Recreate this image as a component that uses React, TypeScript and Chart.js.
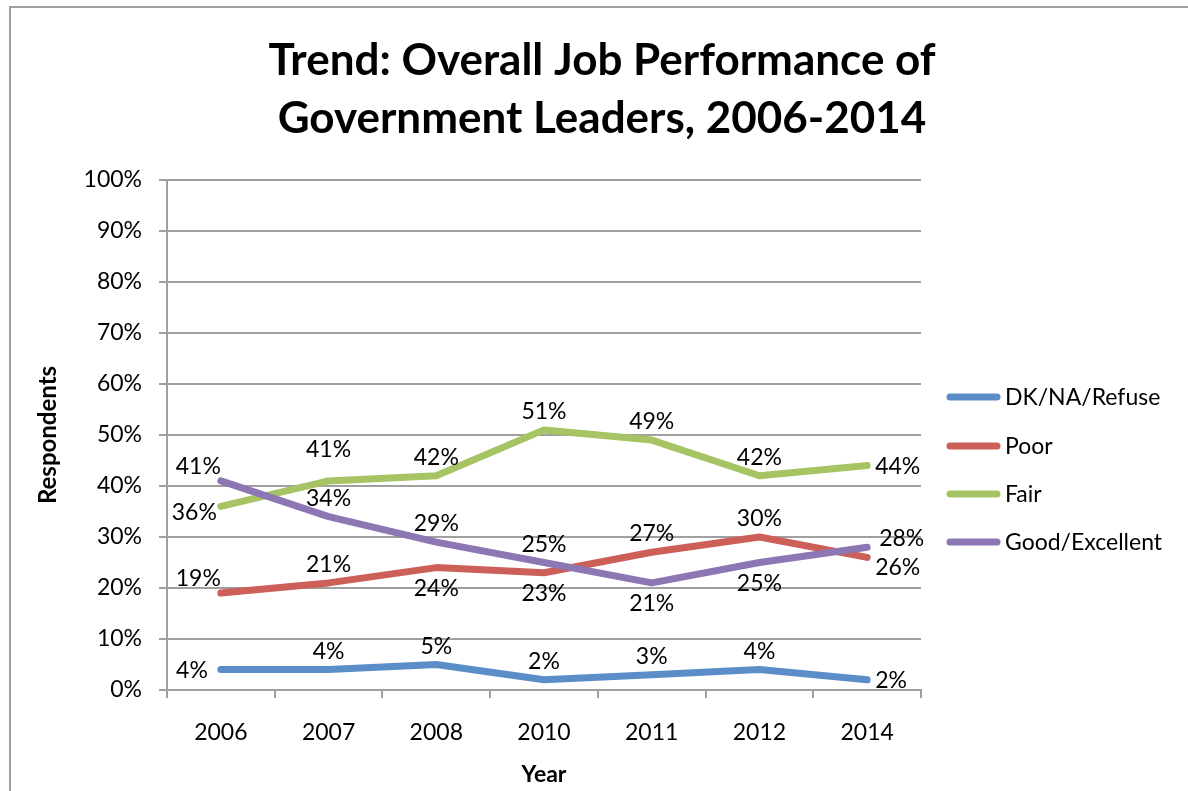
import React, { useEffect, useRef } from "react";
import { Chart, registerables } from "chart.js";

Chart.register(...registerables);

const categories = ["2006", "2007", "2008", "2010", "2011", "2012", "2014"];
const dkValues = [4, 4, 5, 2, 3, 4, 2];
const poorValues = [19, 21, 24, 23, 27, 30, 26];
const fairValues = [36, 41, 42, 51, 49, 42, 44];
const goodValues = [41, 34, 29, 25, 21, 25, 28];
const seriesNames = ["DK/NA/Refuse", "Poor", "Fair", "Good/Excellent"];
const titleLines = ["Trend: Overall Job Performance of", "Government Leaders, 2006-2014"];
const xTitle = "Year";
const yTitle = "Respondents";

// label placement keywords (style only)
const dkPos = ["left", "above", "above", "above", "above", "above", "right"];
const poorPos = ["aboveLeft", "above", "below", "below", "above", "above", "belowRight"];
const fairPos = ["belowLeft", "high", "above", "above", "above", "above", "right"];
const goodPos = ["aboveLeft", "above", "above", "above", "below", "below", "aboveRight"];

const FONT = "Lato, 'Open Sans', sans-serif";
const COLORS = ["#5b8ec9", "#cd5f59", "#a6c464", "#8c76b3"];
const GRID = "#a0a0a0";

const customPlugin = {
  id: "customDecor",
  beforeDraw(chart: any) {
    const ctx = chart.ctx;
    ctx.save();
    ctx.fillStyle = "#ffffff";
    ctx.fillRect(0, 0, chart.width, chart.height);
    ctx.strokeStyle = GRID;
    ctx.lineWidth = 2;
    ctx.beginPath();
    ctx.moveTo(10, chart.height + 10);
    ctx.lineTo(10, 7);
    ctx.lineTo(chart.width + 10, 7);
    ctx.stroke();
    ctx.restore();
  },
  afterDatasetsDraw(chart: any) {
    const ctx = chart.ctx;
    const positions = [dkPos, poorPos, fairPos, goodPos];
    ctx.save();
    ctx.font = `23px ${FONT}`;
    ctx.fillStyle = "#000";
    ctx.textBaseline = "alphabetic";
    chart.data.datasets.forEach((ds: any, di: number) => {
      const meta = chart.getDatasetMeta(di);
      meta.data.forEach((pt: any, i: number) => {
        const txt = ds.data[i] + "%";
        const pos = positions[di][i];
        let x = pt.x;
        let y = pt.y;
        let align: CanvasTextAlign = "center";
        switch (pos) {
          case "above": y = pt.y - 11; break;
          case "high": y = pt.y - 24; break;
          case "below": y = pt.y + 28; break;
          case "left": align = "right"; x = pt.x - 13; y = pt.y + 8; break;
          case "right": align = "left"; x = pt.x + 8; y = pt.y + 8; break;
          case "aboveLeft": align = "right"; x = pt.x; y = pt.y - 7; break;
          case "belowLeft": align = "right"; x = pt.x - 4; y = pt.y + 14; break;
          case "aboveRight": align = "left"; x = pt.x + 12; y = pt.y - 1; break;
          case "belowRight": align = "left"; x = pt.x + 8; y = pt.y + 18; break;
        }
        ctx.textAlign = align;
        ctx.fillText(txt, x, y);
      });
    });
    ctx.restore();
  },
  afterDraw(chart: any) {
    const ctx = chart.ctx;
    const area = chart.chartArea;
    ctx.save();
    ctx.fillStyle = "#000";
    // title
    ctx.font = `bold 44px ${FONT}`;
    ctx.textAlign = "center";
    ctx.textBaseline = "alphabetic";
    ctx.fillText(titleLines[0], 602, 75);
    ctx.fillText(titleLines[1], 602, 133);
    // x title
    ctx.font = `bold 23px ${FONT}`;
    ctx.fillText(xTitle, (area.left + area.right) / 2, 782);
    // y title
    ctx.save();
    ctx.font = `bold 24px ${FONT}`;
    ctx.translate(56, (area.top + area.bottom) / 2);
    ctx.rotate(-Math.PI / 2);
    ctx.fillText(yTitle, 0, 0);
    ctx.restore();
    // legend
    const legendYs = [397, 446, 494, 542];
    ctx.font = `23px ${FONT}`;
    ctx.textAlign = "left";
    ctx.textBaseline = "middle";
    seriesNames.forEach((name, i) => {
      ctx.strokeStyle = COLORS[i];
      ctx.lineWidth = 7;
      ctx.lineCap = "round";
      ctx.beginPath();
      ctx.moveTo(950, legendYs[i]);
      ctx.lineTo(997, legendYs[i]);
      ctx.stroke();
      ctx.fillStyle = "#000";
      ctx.fillText(name, 1005, legendYs[i] + 1);
    });
    ctx.restore();
  },
};

export default function App() {
  const ref = useRef<HTMLCanvasElement | null>(null);
  useEffect(() => {
    const canvas = ref.current!;
    const values = [dkValues, poorValues, fairValues, goodValues];
    const chart = new Chart(canvas, {
      type: "line",
      data: {
        labels: categories,
        datasets: seriesNames.map((name, i) => ({
          label: name,
          data: values[i],
          borderColor: COLORS[i],
          backgroundColor: COLORS[i],
          borderWidth: 7,
          pointRadius: 0,
          borderCapStyle: "round",
          borderJoinStyle: "round",
          tension: 0,
          order: 3 - i,
        })),
      },
      options: {
        animation: false,
        responsive: false,
        devicePixelRatio: 1,
        layout: { padding: { left: 0, top: 180, right: 267, bottom: 0 } },
        plugins: {
          legend: { display: false },
          title: { display: false },
          tooltip: { enabled: false },
        },
        scales: {
          x: {
            type: "category",
            offset: true,
            afterFit: (scale: any) => { scale.height = 101; },
            grid: {
              offset: true,
              drawOnChartArea: false,
              drawTicks: true,
              tickLength: 8,
              color: GRID,
              lineWidth: 2,
            },
            border: { display: true, color: GRID, width: 2 },
            ticks: {
              color: "#000",
              font: { family: FONT, size: 23 },
              padding: 21,
              maxRotation: 0,
            },
          },
          y: {
            min: 0,
            max: 100,
            afterFit: (scale: any) => { scale.width = 167; },
            grid: {
              drawTicks: true,
              tickLength: 8,
              color: GRID,
              lineWidth: 2,
            },
            border: { display: true, color: GRID, width: 2 },
            ticks: {
              stepSize: 10,
              color: "#000",
              font: { family: FONT, size: 23 },
              padding: 17,
              callback: (v: any) => v + "%",
            },
          },
        },
      },
      plugins: [customPlugin],
    });
    return () => chart.destroy();
  }, []);
  return (
    <div style={{ position: "fixed", left: 0, top: 0, width: 1188, height: 791, overflow: "hidden", background: "#fff" }}>
      <canvas ref={ref} width={1188} height={791} style={{ width: 1188, height: 791, display: "block" }} />
    </div>
  );
}
